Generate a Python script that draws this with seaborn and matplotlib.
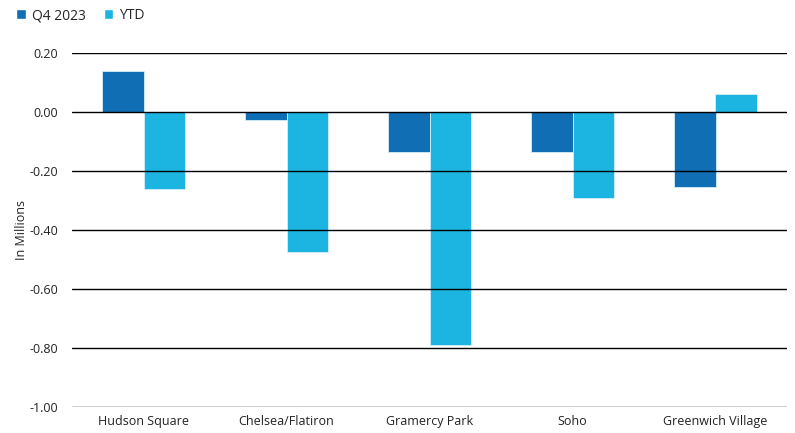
import pandas as pd
import matplotlib.pyplot as plt
import seaborn as sns
from matplotlib.patches import Patch

# Dados
bairros = ['Hudson Square', 'Chelsea/Flatiron', 'Gramercy Park', 'Soho', 'Greenwich Village']
q4_2023 = [0.14, -0.027, -0.135, -0.137, -0.253]
ytd = [-0.26, -0.475, -0.79, -0.293, 0.061]
series = ['Q4 2023', 'YTD']
cores = ['#0F6EB4', '#1CB5E2']

df = pd.DataFrame({
    'bairro': bairros * 2,
    'serie': [series[0]] * len(bairros) + [series[1]] * len(bairros),
    'valor': q4_2023 + ytd,
})

sns.set_style('white')
plt.rcParams['font.family'] = ['Open Sans', 'DejaVu Sans']

fig = plt.figure(figsize=(7.95, 4.33), dpi=100)
ax = fig.add_axes([72 / 795, 1 - 407 / 433, 715 / 795, 354 / 433])

sns.barplot(data=df, x='bairro', y='valor', hue='serie', palette=cores,
            saturation=1, width=0.58, gap=0, edgecolor='#d6eef8', linewidth=0.6,
            legend=False, ax=ax)

ax.set_ylim(-1.0, 0.2)
ax.set_yticks([0.2, 0.0, -0.2, -0.4, -0.6, -0.8, -1.0])
ax.set_yticklabels(['0.20', '0.00', '-0.20', '-0.40', '-0.60', '-0.80', '-1.00'])
ax.yaxis.grid(True, color='black', linewidth=1.0)
ax.set_axisbelow(False)
for s in ax.spines.values():
    s.set_visible(False)
ax.tick_params(axis='both', length=0, labelsize=9, colors='#222222')
ax.tick_params(axis='y', pad=10)
ax.tick_params(axis='x', pad=6)
ax.set_xlabel('')
ax.set_ylabel('In Millions', fontsize=9, color='#222222', labelpad=1)
ax.set_xlim(-0.5, 4.5)

handles = [Patch(facecolor=c, label=s) for c, s in zip(cores, series)]
fig.legend(handles=handles, loc='upper left', bbox_to_anchor=(0.005, 1.01), ncol=2,
           frameon=False, fontsize=10, handlelength=0.7, handleheight=0.7,
           handletextpad=0.4, columnspacing=1.3)

fig.savefig('out.png', dpi=100)
